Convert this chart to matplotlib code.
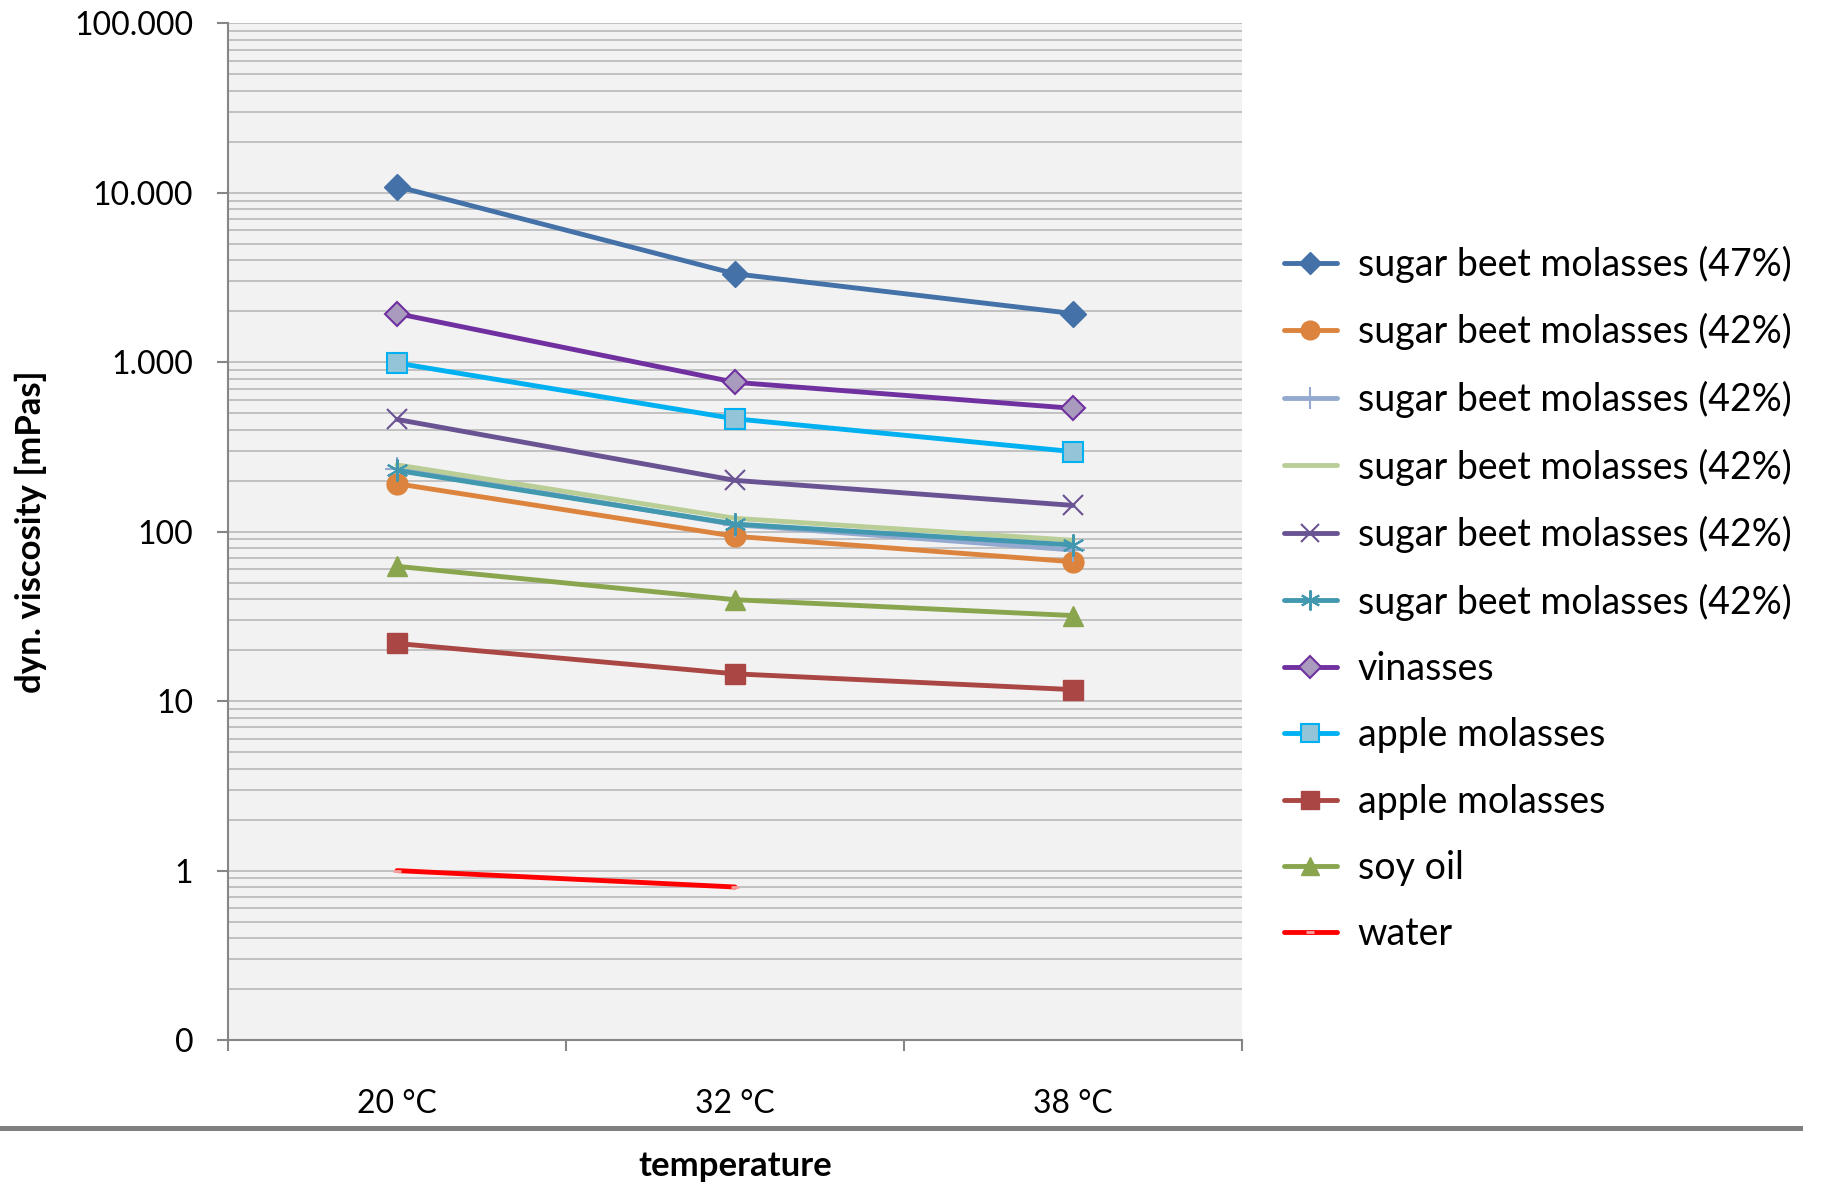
import matplotlib
matplotlib.use("Agg")
import matplotlib.pyplot as plt
from matplotlib.lines import Line2D
from matplotlib.ticker import FixedLocator, FixedFormatter, LogLocator, NullFormatter

plt.rcParams["font.family"] = ["Lato", "DejaVu Sans"]

# categories and tick text
temperatures = ["20 °C", "32 °C", "38 °C"]
y_ticks = [0.1, 1, 10, 100, 1000, 10000, 100000]
y_tick_labels = ["0", "1", "10", "100", "1.000", "10.000", "100.000"]

# viscosity readings [mPas]
beet_47 = [10900, 3330, 1940]
beet_42_a = [192, 94, 66.5]
beet_42_b = [236, 110, 78]
beet_42_c = [248, 120, 89]
beet_42_d = [460, 201, 143]
beet_42_e = [230, 111, 83.5]
vinasses = [1940, 762, 535]
apple_1 = [990, 464, 297]
apple_2 = [21.9, 14.5, 11.7]
soy_oil = [62.5, 39.7, 32]
water = [1.0, 0.8]

series = [
    ("sugar beet molasses (47%)", beet_47,
     dict(color="#4471A7", marker="D", ms=13, mfc="#4471A7", mec="#4471A7")),
    ("sugar beet molasses (42%)", beet_42_a,
     dict(color="#DC843D", marker="o", ms=15, mfc="#DC843D", mec="#DC843D")),
    ("sugar beet molasses (42%)", beet_42_b,
     dict(color="#93A9CF", marker="+", ms=17, mew=1.5)),
    ("sugar beet molasses (42%)", beet_42_c,
     dict(color="#B9CD96", marker="None")),
    ("sugar beet molasses (42%)", beet_42_d,
     dict(color="#6A5393", marker="x", ms=14, mew=1.5)),
    ("sugar beet molasses (42%)", beet_42_e,
     dict(color="#4198AF", marker=(6, 2, 0), ms=16, mew=1.5)),
    ("vinasses", vinasses,
     dict(color="#7030A0", marker="D", ms=12, mfc="#A99BBD", mec="#7030A0", mew=1.5)),
    ("apple molasses", apple_1,
     dict(color="#00B0F0", marker="s", ms=15, mfc="#93C4D8", mec="#00B0F0", mew=1.5)),
    ("apple molasses", apple_2,
     dict(color="#AA4643", marker="s", ms=15, mfc="#AA4643", mec="#AA4643")),
    ("soy oil", soy_oil,
     dict(color="#89A54E", marker="^", ms=15, mfc="#89A54E", mec="#89A54E")),
    ("water", water,
     dict(color="#FF0000", marker="_", ms=6, mec="#F4A0A0", mew=2)),
]

fig = plt.figure(figsize=(18.39, 11.84), dpi=100)
ax = fig.add_axes([0.124, 0.1216, 0.5514, 0.8586])
ax.set_facecolor("#F2F2F2")

x = list(range(len(temperatures)))
for label, values, style in series:
    ax.plot(x[:len(values)], values, lw=3.5, label=label,
            solid_capstyle="round", **style)

ax.set_yscale("log")
ax.set_ylim(0.1, 100000)
ax.set_xlim(-0.5, len(temperatures) - 0.5)

ax.yaxis.set_major_locator(FixedLocator(y_ticks))
ax.yaxis.set_major_formatter(FixedFormatter(y_tick_labels))
ax.yaxis.set_minor_locator(LogLocator(base=10, subs=range(2, 10)))
ax.yaxis.set_minor_formatter(NullFormatter())
ax.tick_params(axis="y", which="major", length=8, width=1.5, color="#868686",
               labelsize=23, pad=17)
ax.tick_params(axis="y", which="minor", length=0)
ax.grid(True, axis="y", which="both", color="#B4B4B4", lw=1.1)
ax.set_axisbelow(True)

# category boundaries get the tick marks, labels sit between them
ax.xaxis.set_major_locator(FixedLocator([i - 0.5 for i in range(len(temperatures) + 1)]))
ax.xaxis.set_major_formatter(FixedFormatter([""] * (len(temperatures) + 1)))
ax.xaxis.set_minor_locator(FixedLocator(x))
ax.xaxis.set_minor_formatter(FixedFormatter(temperatures))
ax.tick_params(axis="x", which="major", length=8, width=1.5, color="#868686")
ax.tick_params(axis="x", which="minor", length=0, labelsize=23, pad=35)

for side in ("top", "right"):
    ax.spines[side].set_visible(False)
for side in ("left", "bottom"):
    ax.spines[side].set_color("#868686")
    ax.spines[side].set_linewidth(1.5)

ax.set_ylabel("dyn. viscosity [mPas]", fontsize=25, fontweight="bold")
ax.yaxis.set_label_coords(-0.1785, 0.5)
ax.set_xlabel("temperature", fontsize=25, fontweight="bold")
ax.xaxis.set_label_coords(0.5, -0.1085)

fig.add_artist(Line2D([0, 1800 / 1839], [0.047, 0.047], transform=fig.transFigure,
                      color="#808080", lw=3.6))

ax.legend(loc="center left", bbox_to_anchor=(1284 / 1839, 0.494),
          bbox_transform=fig.transFigure, frameon=False, fontsize=27,
          handlelength=1.41, handletextpad=0.56, labelspacing=0.81,
          borderpad=0, borderaxespad=0, markerscale=0.9)

fig.savefig("out.png", dpi=100)
